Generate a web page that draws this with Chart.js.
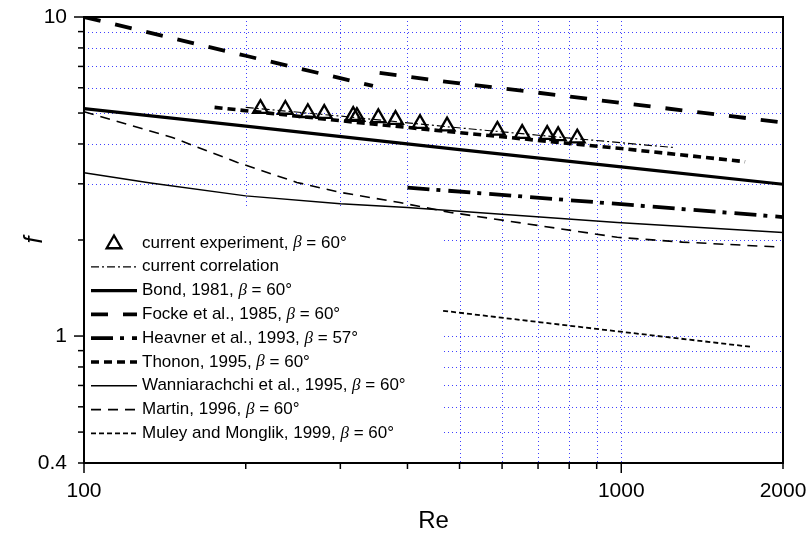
<!DOCTYPE html>
<html>
<head>
<meta charset="utf-8">
<script src="https://cdn.jsdelivr.net/npm/chart.js@4/dist/chart.umd.min.js"></script>
<style>
  html, body { margin: 0; padding: 0; background: #fff; }
  #wrap { width: 812px; height: 543px; }
</style>
</head>
<body>
<div id="wrap"><canvas id="c" width="812" height="543"></canvas></div>
<script>
// Friction factor f versus Reynolds number for chevron plates

// measured points
const reExperiment = [213, 237, 261, 280, 317, 322, 353, 380, 422, 474, 588, 654, 728, 763, 828];
const fExperiment  = [5.16, 5.13, 5.01, 4.98, 4.91, 4.87, 4.83, 4.77, 4.63, 4.55, 4.41, 4.31, 4.28, 4.24, 4.17];

// correlation fitted to the measurements
const reCorrelation = [200, 300, 474, 700, 1250];
const fCorrelation  = [5.21, 4.89, 4.53, 4.26, 3.90];

// literature correlations
const reBond = [100, 200, 500, 1000, 2000];
const fBond  = [5.16, 4.55, 3.84, 3.39, 2.99];

const reFockeLow  = [100, 200, 345];
const fFockeLow   = [10.0, 7.56, 6.08];
const reFockeHigh = [355, 474, 700, 1000, 2000];
const fFockeHigh  = [6.68, 6.26, 5.79, 5.38, 4.67];

const reHeavner = [400, 1000, 2000];
const fHeavner  = [2.92, 2.59, 2.36];

const reThonon = [175, 300, 500, 1000, 1700];
const fThonon  = [5.21, 4.73, 4.34, 3.87, 3.52];

const reWanniarachchi = [100, 133, 200, 300, 400, 500, 983, 2000];
const fWanniarachchi  = [3.25, 3.02, 2.75, 2.60, 2.53, 2.46, 2.27, 2.11];

const reMartin = [100, 146, 193, 249, 300, 387, 481, 983, 1300, 1975];
const fMartin  = [5.05, 4.19, 3.50, 3.03, 2.82, 2.62, 2.44, 2.04, 1.97, 1.90];

const reMuley = [466, 912, 1755];
const fMuley  = [1.20, 1.05, 0.924];

// axis ticks
const xTickValues = [100, 200, 300, 400, 500, 600, 700, 800, 900, 1000, 2000];
const xTickLabels = [100, 1000, 2000];
const yTickValues = [0.4, 0.5, 0.6, 0.7, 0.8, 0.9, 1, 2, 3, 4, 5, 6, 7, 8, 9, 10];
const yTickLabels = [0.4, 1, 10];
const xGridValues = [200, 300, 400, 500, 600, 700, 800, 900, 1000];
const yGridValues = [0.5, 0.6, 0.7, 0.8, 0.9, 1, 2, 3, 4, 5, 6, 7, 8, 9];

const pts = (xs, ys) => xs.map((x, i) => ({ x: x, y: ys[i] }));

function curve(label, xs, ys, width, dash) {
  return {
    label: label,
    data: pts(xs, ys),
    borderColor: '#000',
    backgroundColor: '#000',
    borderWidth: width,
    borderDash: dash,
    pointRadius: 0,
    tension: 0,
    fill: false
  };
}

const datasets = [
  {
    label: 'current experiment, β = 60°',
    data: pts(reExperiment, fExperiment),
    showLine: false,
    pointStyle: 'triangle',
    pointRadius: 8.5,
    pointBorderWidth: 2.3,
    borderColor: '#000',
    pointBorderColor: '#000',
    pointBackgroundColor: 'rgba(0,0,0,0)',
    backgroundColor: 'rgba(0,0,0,0)'
  },
  curve('current correlation', reCorrelation, fCorrelation, 1.2, [8, 3, 2, 3]),
  curve('Bond, 1981, β = 60°', reBond, fBond, 3.2, []),
  curve('Focke et al., 1985, β = 60°', reFockeLow, fFockeLow, 3.8, [17, 15]),
  curve('', reFockeHigh, fFockeHigh, 3.8, [17, 15]),
  curve('Heavner et al., 1993, β = 57°', reHeavner, fHeavner, 3.8, [22, 7, 4, 8]),
  curve('Thonon, 1995, β = 60°', reThonon, fThonon, 3.6, [8, 5]),
  curve('Wanniarachchi et al., 1995, β = 60°', reWanniarachchi, fWanniarachchi, 1.5, []),
  curve('Martin, 1996, β = 60°', reMartin, fMartin, 1.6, [10, 7]),
  curve('Muley and Monglik, 1999, β = 60°', reMuley, fMuley, 1.8, [5, 3])
];

const gridBlue = 'rgba(30,30,255,0.85)';
const legendBox = { right: 443, top: 209 };
const legendRows = { x0: 91, x1: 137, textX: 142, y0: 243, step: 23.8 };
const textFont = '17px "Liberation Sans", Arial, sans-serif';
const betaFont = 'italic 17px "Liberation Serif", "Times New Roman", serif';

function drawLegendText(ctx, text, x, y) {
  const i = text.indexOf('β');
  const parts = i < 0 ? [[text, textFont]]
    : [[text.slice(0, i), textFont], ['β', betaFont], [text.slice(i + 1), textFont]];
  let cx = x;
  for (const [t, f] of parts) {
    ctx.font = f;
    ctx.fillText(t, cx, y);
    cx += ctx.measureText(t).width;
  }
}

const plateFrame = {
  id: 'plateFrame',
  beforeDatasetsDraw(chart) {
    const { ctx, chartArea: a, scales: { x, y } } = chart;
    ctx.save();
    ctx.strokeStyle = gridBlue;
    ctx.lineWidth = 1;
    ctx.setLineDash([1, 3]);
    for (const v of yGridValues) {
      const py = Math.round(y.getPixelForValue(v)) + 0.5;
      ctx.beginPath(); ctx.moveTo(a.left, py); ctx.lineTo(a.right, py); ctx.stroke();
    }
    for (const v of xGridValues) {
      const px = Math.round(x.getPixelForValue(v)) + 0.5;
      ctx.beginPath(); ctx.moveTo(px, a.top); ctx.lineTo(px, a.bottom); ctx.stroke();
    }
    ctx.setLineDash([]);
    // opaque legend panel
    ctx.fillStyle = '#fff';
    ctx.fillRect(a.left + 1, legendBox.top, legendBox.right - a.left - 1, a.bottom - legendBox.top - 1);
    ctx.restore();
  },
  afterDatasetsDraw(chart) {
    const { ctx, chartArea: a, scales: { x, y } } = chart;
    ctx.save();
    // legend entries
    let row = 0;
    chart.data.datasets.forEach((ds) => {
      if (!ds.label) return;
      const ly = legendRows.y0 + row * legendRows.step;
      ctx.strokeStyle = '#000';
      if (ds.showLine === false) {
        ctx.fillStyle = 'rgba(0,0,0,0)';
        ctx.lineWidth = ds.pointBorderWidth;
        ctx.setLineDash([]);
        Chart.helpers.drawPoint(ctx, {
          pointStyle: ds.pointStyle, radius: ds.pointRadius,
          borderWidth: ds.pointBorderWidth, rotation: 0
        }, (legendRows.x0 + legendRows.x1) / 2, ly + 1);
      } else {
        ctx.lineWidth = ds.borderWidth;
        ctx.setLineDash(ds.borderDash || []);
        ctx.beginPath();
        ctx.moveTo(legendRows.x0, ly);
        ctx.lineTo(legendRows.x1, ly);
        ctx.stroke();
      }
      ctx.setLineDash([]);
      ctx.fillStyle = '#000';
      ctx.textBaseline = 'middle';
      ctx.textAlign = 'left';
      drawLegendText(ctx, ds.label, legendRows.textX, ly);
      row++;
    });

    // axes and frame
    ctx.strokeStyle = '#000';
    ctx.lineWidth = 2;
    ctx.beginPath();
    ctx.moveTo(a.left, a.top);
    ctx.lineTo(a.right, a.top);
    ctx.lineTo(a.right, a.bottom);
    ctx.lineTo(a.left, a.bottom);
    ctx.closePath();
    ctx.stroke();

    // tick marks, pointing outward
    ctx.lineWidth = 1.5;
    for (const v of yTickValues) {
      const py = y.getPixelForValue(v);
      const len = (v === 1 || v === 10) ? 10 : 6;
      ctx.beginPath(); ctx.moveTo(a.left - len, py); ctx.lineTo(a.left, py); ctx.stroke();
    }
    for (const v of xTickValues) {
      const px = x.getPixelForValue(v);
      const len = (v === 100 || v === 1000) ? 10 : 6;
      ctx.beginPath(); ctx.moveTo(px, a.bottom); ctx.lineTo(px, a.bottom + len); ctx.stroke();
    }
    ctx.restore();
  }
};

new Chart(document.getElementById('c'), {
  type: 'line',
  data: { datasets: datasets },
  plugins: [plateFrame],
  options: {
    responsive: false,
    animation: false,
    devicePixelRatio: 1,
    layout: { autoPadding: false, padding: { left: 0, right: 29, top: 17, bottom: 0 } },
    plugins: { legend: { display: false }, tooltip: { enabled: false } },
    scales: {
      x: {
        type: 'logarithmic',
        position: 'bottom',
        min: 100,
        max: 2000,
        afterBuildTicks: (s) => { s.ticks = xTickValues.map(v => ({ value: v })); },
        afterFit: (s) => { s.height = 80; s.paddingLeft = 0; s.paddingRight = 0; },
        grid: { display: false, drawTicks: false },
        border: { display: false },
        ticks: {
          autoSkip: false, maxRotation: 0, minRotation: 0, padding: 16,
          color: '#000',
          font: { family: '"Liberation Sans", Arial, sans-serif', size: 21 },
          callback: (v) => xTickLabels.includes(v) ? String(v) : ''
        },
        title: {
          display: true, text: 'Re', color: '#000',
          font: { family: '"Liberation Sans", Arial, sans-serif', size: 24 },
          padding: { top: 0, bottom: 7 }
        }
      },
      y: {
        type: 'logarithmic',
        position: 'left',
        min: 0.4,
        max: 10,
        afterBuildTicks: (s) => { s.ticks = yTickValues.map(v => ({ value: v })); },
        afterFit: (s) => { s.width = 84; s.paddingTop = 0; s.paddingBottom = 0; },
        grid: { display: false, drawTicks: false },
        border: { display: false },
        ticks: {
          autoSkip: false, padding: 17,
          color: '#000',
          font: { family: '"Liberation Sans", Arial, sans-serif', size: 21 },
          callback: (v) => yTickLabels.includes(v) ? String(v) : ''
        },
        title: {
          display: true, text: 'f', color: '#000',
          font: { family: '"Liberation Sans", Arial, sans-serif', size: 25, style: 'italic' },
          padding: { top: 20, bottom: 0 }
        }
      }
    }
  }
});
</script>
</body>
</html>
